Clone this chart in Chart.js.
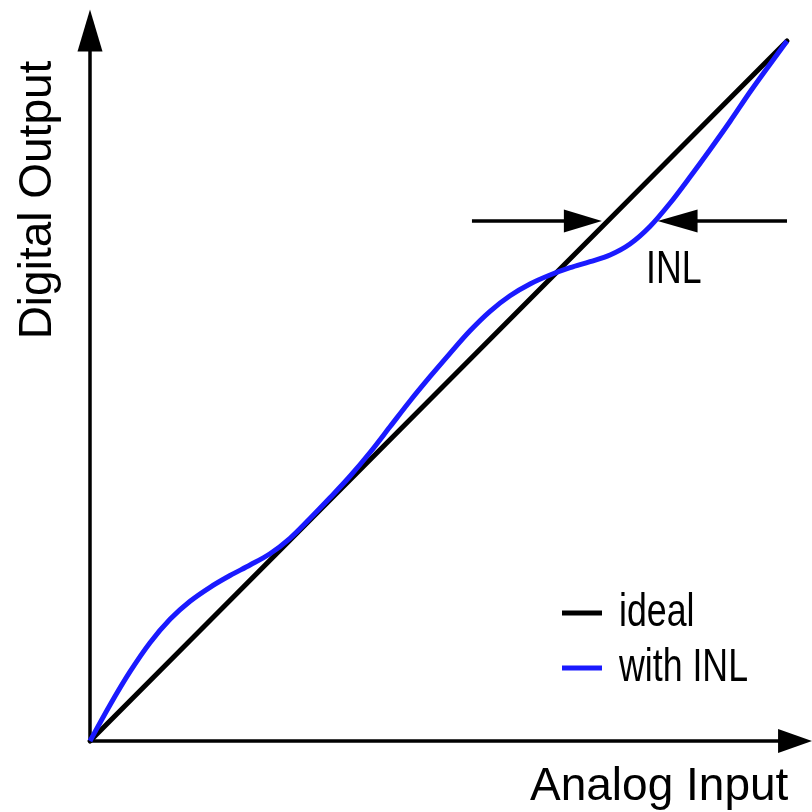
<!DOCTYPE html>
<html>
<head>
<meta charset="utf-8">
<script src="https://cdn.jsdelivr.net/npm/chart.js@4"></script>
<style>
  html, body { margin: 0; padding: 0; background: #fff; }
</style>
</head>
<body>
<canvas id="inlChart" width="812" height="812"></canvas>
<script>
// transfer curve of an ADC: ideal straight line vs. one bent by INL
const inputLevels = [0, 2.87, 5.74, 8.61, 11.48, 14.35, 17.22, 20.09, 22.96, 25.82,
    28.69, 31.56, 34.43, 37.30, 40.17, 43.04, 45.91, 48.78, 51.65, 54.52,
    57.39, 60.26, 63.13, 66.0, 68.87, 71.74, 74.61, 77.47, 80.34, 83.21,
    86.08, 88.95, 91.82, 94.69, 97.56, 100];
const inlOutput = [0, 5.15, 9.90, 14.04, 17.39, 19.96, 21.96, 23.64, 25.14, 26.75,
    28.96, 31.79, 34.75, 37.82, 41.21, 44.89, 48.57, 52.04, 55.39, 58.61,
    61.39, 63.61, 65.29, 66.57, 67.61, 68.47, 69.43, 71.0, 73.5, 76.82,
    80.57, 84.47, 88.5, 92.71, 96.68, 100];
const idealInput = [0, 100];
const idealOutput = [0, 100];

// INL marker: output level, ideal input and actual input at that level
const inlLevel = 74.3;
const inlIdealAt = 74.3;
const inlActualAt = 81.0;
const inlArrowFrom = [54.8, 100];

const legendLabels = ['ideal', 'with INL'];
const blue = '#1a1aff';

function toPoints(xs, ys) {
    return xs.map((v, i) => ({ x: v, y: ys[i] }));
}

function arrowHead(ctx, tx, ty, dx, dy, len, half) {
    // dx, dy: unit direction the arrow points to
    const bx = tx - dx * len, by = ty - dy * len;
    ctx.beginPath();
    ctx.moveTo(tx, ty);
    ctx.lineTo(bx - dy * half, by + dx * half);
    ctx.lineTo(bx + dy * half, by - dx * half);
    ctx.closePath();
    ctx.fill();
}

function narrowText(ctx, text, x, y) {
    ctx.save();
    ctx.translate(x, y);
    ctx.scale(0.76, 1);
    ctx.fillText(text, 0, 0);
    ctx.restore();
}

const sketch = {
    id: 'inlSketch',
    beforeDatasetsDraw(chart) {
        const { ctx, scales: { x, y } } = chart;
        const x0 = x.getPixelForValue(0);
        const y0 = y.getPixelForValue(0);
        const xTip = x.getPixelForValue(103.6);
        const yTip = y.getPixelForValue(104.5);
        ctx.save();
        ctx.strokeStyle = '#000';
        ctx.fillStyle = '#000';
        ctx.lineWidth = 3.5;
        ctx.beginPath();
        ctx.moveTo(x0, y0);
        ctx.lineTo(xTip - 20, y0);
        ctx.moveTo(x0, y0);
        ctx.lineTo(x0, yTip + 20);
        ctx.stroke();
        arrowHead(ctx, xTip, y0, 1, 0, 34, 12);
        arrowHead(ctx, x0, yTip, 0, -1, 42, 12.5);

        // axis titles
        ctx.font = '46px "Liberation Sans", Arial, sans-serif';
        ctx.textBaseline = 'alphabetic';
        ctx.textAlign = 'left';
        ctx.fillText('Analog Input', 530, 800);
        ctx.save();
        ctx.translate(51, 200);
        ctx.rotate(-Math.PI / 2);
        ctx.textAlign = 'center';
        ctx.fillText('Digital Output', 0, 0);
        ctx.restore();
        ctx.restore();
    },
    afterDatasetsDraw(chart) {
        const { ctx, scales: { x, y } } = chart;
        const ly = y.getPixelForValue(inlLevel);
        const leftTip = x.getPixelForValue(inlIdealAt) - 6;
        const rightTip = x.getPixelForValue(inlActualAt) + 3;
        ctx.save();
        ctx.strokeStyle = '#000';
        ctx.fillStyle = '#000';
        ctx.lineWidth = 3.5;
        ctx.beginPath();
        ctx.moveTo(x.getPixelForValue(inlArrowFrom[0]), ly);
        ctx.lineTo(leftTip - 30, ly);
        ctx.moveTo(x.getPixelForValue(inlArrowFrom[1]), ly);
        ctx.lineTo(rightTip + 30, ly);
        ctx.stroke();
        arrowHead(ctx, leftTip, ly, 1, 0, 38, 11.5);
        arrowHead(ctx, rightTip, ly, -1, 0, 40, 11.5);

        ctx.font = '47px "Liberation Sans", Arial, sans-serif';
        ctx.textBaseline = 'alphabetic';
        ctx.textAlign = 'left';
        narrowText(ctx, 'INL', 646, 283);

        // legend
        const colors = ['#000', blue];
        const rows = [613, 668];
        ctx.lineWidth = 5;
        rows.forEach((ry, i) => {
            ctx.strokeStyle = colors[i];
            ctx.beginPath();
            ctx.moveTo(562, ry);
            ctx.lineTo(602, ry);
            ctx.stroke();
            ctx.fillStyle = '#000';
            narrowText(ctx, legendLabels[i], 619, ry + 13);
        });
        ctx.restore();
    }
};

new Chart(document.getElementById('inlChart'), {
    type: 'scatter',
    data: {
        datasets: [
            {
                label: legendLabels[1],
                data: toPoints(inputLevels, inlOutput),
                showLine: true,
                borderColor: blue,
                borderWidth: 5,
                pointRadius: 0,
                cubicInterpolationMode: 'monotone',
                clip: false
            },
            {
                label: legendLabels[0],
                data: toPoints(idealInput, idealOutput),
                showLine: true,
                borderColor: '#000',
                borderWidth: 5,
                pointRadius: 0,
                borderCapStyle: 'round',
                clip: false
            }
        ]
    },
    options: {
        responsive: false,
        animation: false,
        layout: { padding: { left: 90, right: 25, top: 41, bottom: 71 } },
        scales: {
            x: { type: 'linear', min: 0, max: 100, display: false },
            y: { type: 'linear', min: 0, max: 100, display: false }
        },
        plugins: {
            legend: { display: false },
            tooltip: { enabled: false }
        }
    },
    plugins: [sketch]
});
</script>
</body>
</html>
